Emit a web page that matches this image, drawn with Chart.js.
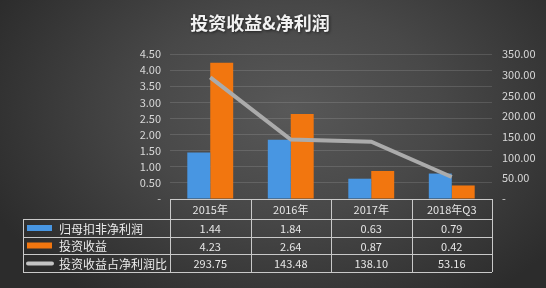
<!DOCTYPE html>
<html><head><meta charset="utf-8">
<script src="https://cdn.jsdelivr.net/npm/chart.js@4"></script>
<style>
html,body{margin:0;padding:0;background:#333;}
#wrap{width:546px;height:288px;position:relative;background:radial-gradient(ellipse 330px 230px at 290px 110px,#585858 0%,#484848 45%,#2c2c2c 100%);}
canvas{display:block;}
</style></head><body>
<div id="wrap"><canvas id="c" width="546" height="288"></canvas></div>
<script>
const title = '投资收益&净利润';
const categories = ['2015年','2016年','2017年','2018年Q3'];
const seriesNames = ['归母扣非净利润','投资收益','投资收益占净利润比'];
const netProfit = [1.44,1.84,0.63,0.79];
const investIncome = [4.23,2.64,0.87,0.42];
const ratio = [293.75,143.48,138.10,53.16];
const leftTicks = [0,0.5,1,1.5,2,2.5,3,3.5,4,4.5];
const rightTicks = [0,50,100,150,200,250,300,350];

const blue='#4896e2', orange='#f2760f', gray='#ababab';
const fontFam='"Noto Sans CJK SC","Noto Sans",sans-serif';

const tablePlugin={
  id:'tbl',
  afterDraw(chart){
    const c=chart.ctx, x=chart.scales.x, area=chart.chartArea;
    const top=area.bottom, rows=[top,top+20,top+38,top+55,top+73];
    const leftX=23;
    const n=categories.length;
    const half=(x.getPixelForValue(1)-x.getPixelForValue(0))/2;
    const bounds=[];
    for(let i=0;i<n;i++) bounds.push(x.getPixelForValue(i)-half);
    bounds.push(x.getPixelForValue(n-1)+half);
    c.save();
    c.strokeStyle='#c9c9c9'; c.lineWidth=1;
    c.beginPath();
    c.moveTo(bounds[0],rows[0]+0.5); c.lineTo(bounds[n],rows[0]+0.5);
    for(let r=1;r<rows.length;r++){ c.moveTo(leftX,rows[r]+0.5); c.lineTo(bounds[n],rows[r]+0.5); }
    for(let i=0;i<=n;i++){ const xx=Math.round(bounds[i])+0.5; c.moveTo(xx,rows[0]); c.lineTo(xx,rows[4]); }
    c.moveTo(leftX+0.5,rows[1]); c.lineTo(leftX+0.5,rows[4]);
    c.stroke();
    c.fillStyle='#e6e6e6'; c.textAlign='center'; c.textBaseline='middle';
    c.font='11px '+fontFam;
    categories.forEach((t,i)=>c.fillText(t,x.getPixelForValue(i),(rows[0]+rows[1])/2+1));
    const data=[netProfit,investIncome,ratio];
    data.forEach((arr,r)=>{
      const cy=(rows[r+1]+rows[r+2])/2+1;
      arr.forEach((v,i)=>c.fillText(v.toFixed(2),x.getPixelForValue(i),cy));
    });
    c.textAlign='left';
    c.font='12px '+fontFam;
    seriesNames.forEach((nm,r)=>{
      const cy=(rows[r+1]+rows[r+2])/2;
      if(r<2){
        c.fillStyle=r==0?blue:orange;
        c.fillRect(27,cy-3,25,6);
      } else {
        c.strokeStyle='#c4c4c4'; c.lineWidth=4; c.lineCap='round';
        c.beginPath(); c.moveTo(28,cy+0.5); c.lineTo(52,cy+0.5); c.stroke();
      }
      c.fillStyle='#ececec';
      c.fillText(nm,59,cy+1);
    });
    c.textAlign='center';
    c.font='bold 18px "Noto Sans CJK SC",serif';
    c.shadowColor='rgba(0,0,0,0.6)'; c.shadowBlur=3; c.shadowOffsetX=1; c.shadowOffsetY=1;
    c.fillStyle='#f2f2f2';
    c.fillText(title,260,23);
    c.restore();
  }
};

new Chart(document.getElementById('c'),{
  type:'bar',
  data:{
    labels:categories,
    datasets:[
      {label:seriesNames[0],data:netProfit,backgroundColor:blue,yAxisID:'y',order:1,categoryPercentage:0.57,barPercentage:1},
      {label:seriesNames[1],data:investIncome,backgroundColor:orange,yAxisID:'y',order:1,categoryPercentage:0.57,barPercentage:1},
      {label:seriesNames[2],data:ratio,type:'line',borderColor:gray,borderWidth:4,pointRadius:0,tension:0,yAxisID:'y1',order:0,borderCapStyle:'butt'}
    ]
  },
  options:{
    responsive:false,animation:false,
    layout:{padding:{left:0,right:0,top:54,bottom:89}},
    plugins:{legend:{display:false},title:{display:false},tooltip:{enabled:false}},
    scales:{
      x:{display:false,offset:true},
      y:{
        position:'left',min:0,max:4.5,
        afterFit(s){s.width=170;},
        afterBuildTicks(s){s.ticks=leftTicks.map(v=>({value:v}));},
        border:{display:false},
        grid:{color:'rgba(255,255,255,0.13)',drawTicks:false},
        ticks:{autoSkip:false,padding:9,color:'#d8d8d8',font:{size:11,family:fontFam},callback:v=>v===0?'-':v.toFixed(2)}
      },
      y1:{
        position:'right',min:0,max:350,
        afterFit(s){s.width=54;},
        afterBuildTicks(s){s.ticks=rightTicks.map(v=>({value:v}));},
        border:{display:false},
        grid:{display:false,drawTicks:false},
        ticks:{autoSkip:false,padding:10,color:'#d8d8d8',font:{size:11,family:fontFam},callback:v=>v===0?'-':v.toFixed(2)}
      }
    }
  },
  plugins:[tablePlugin]
});
</script>
</body></html>
